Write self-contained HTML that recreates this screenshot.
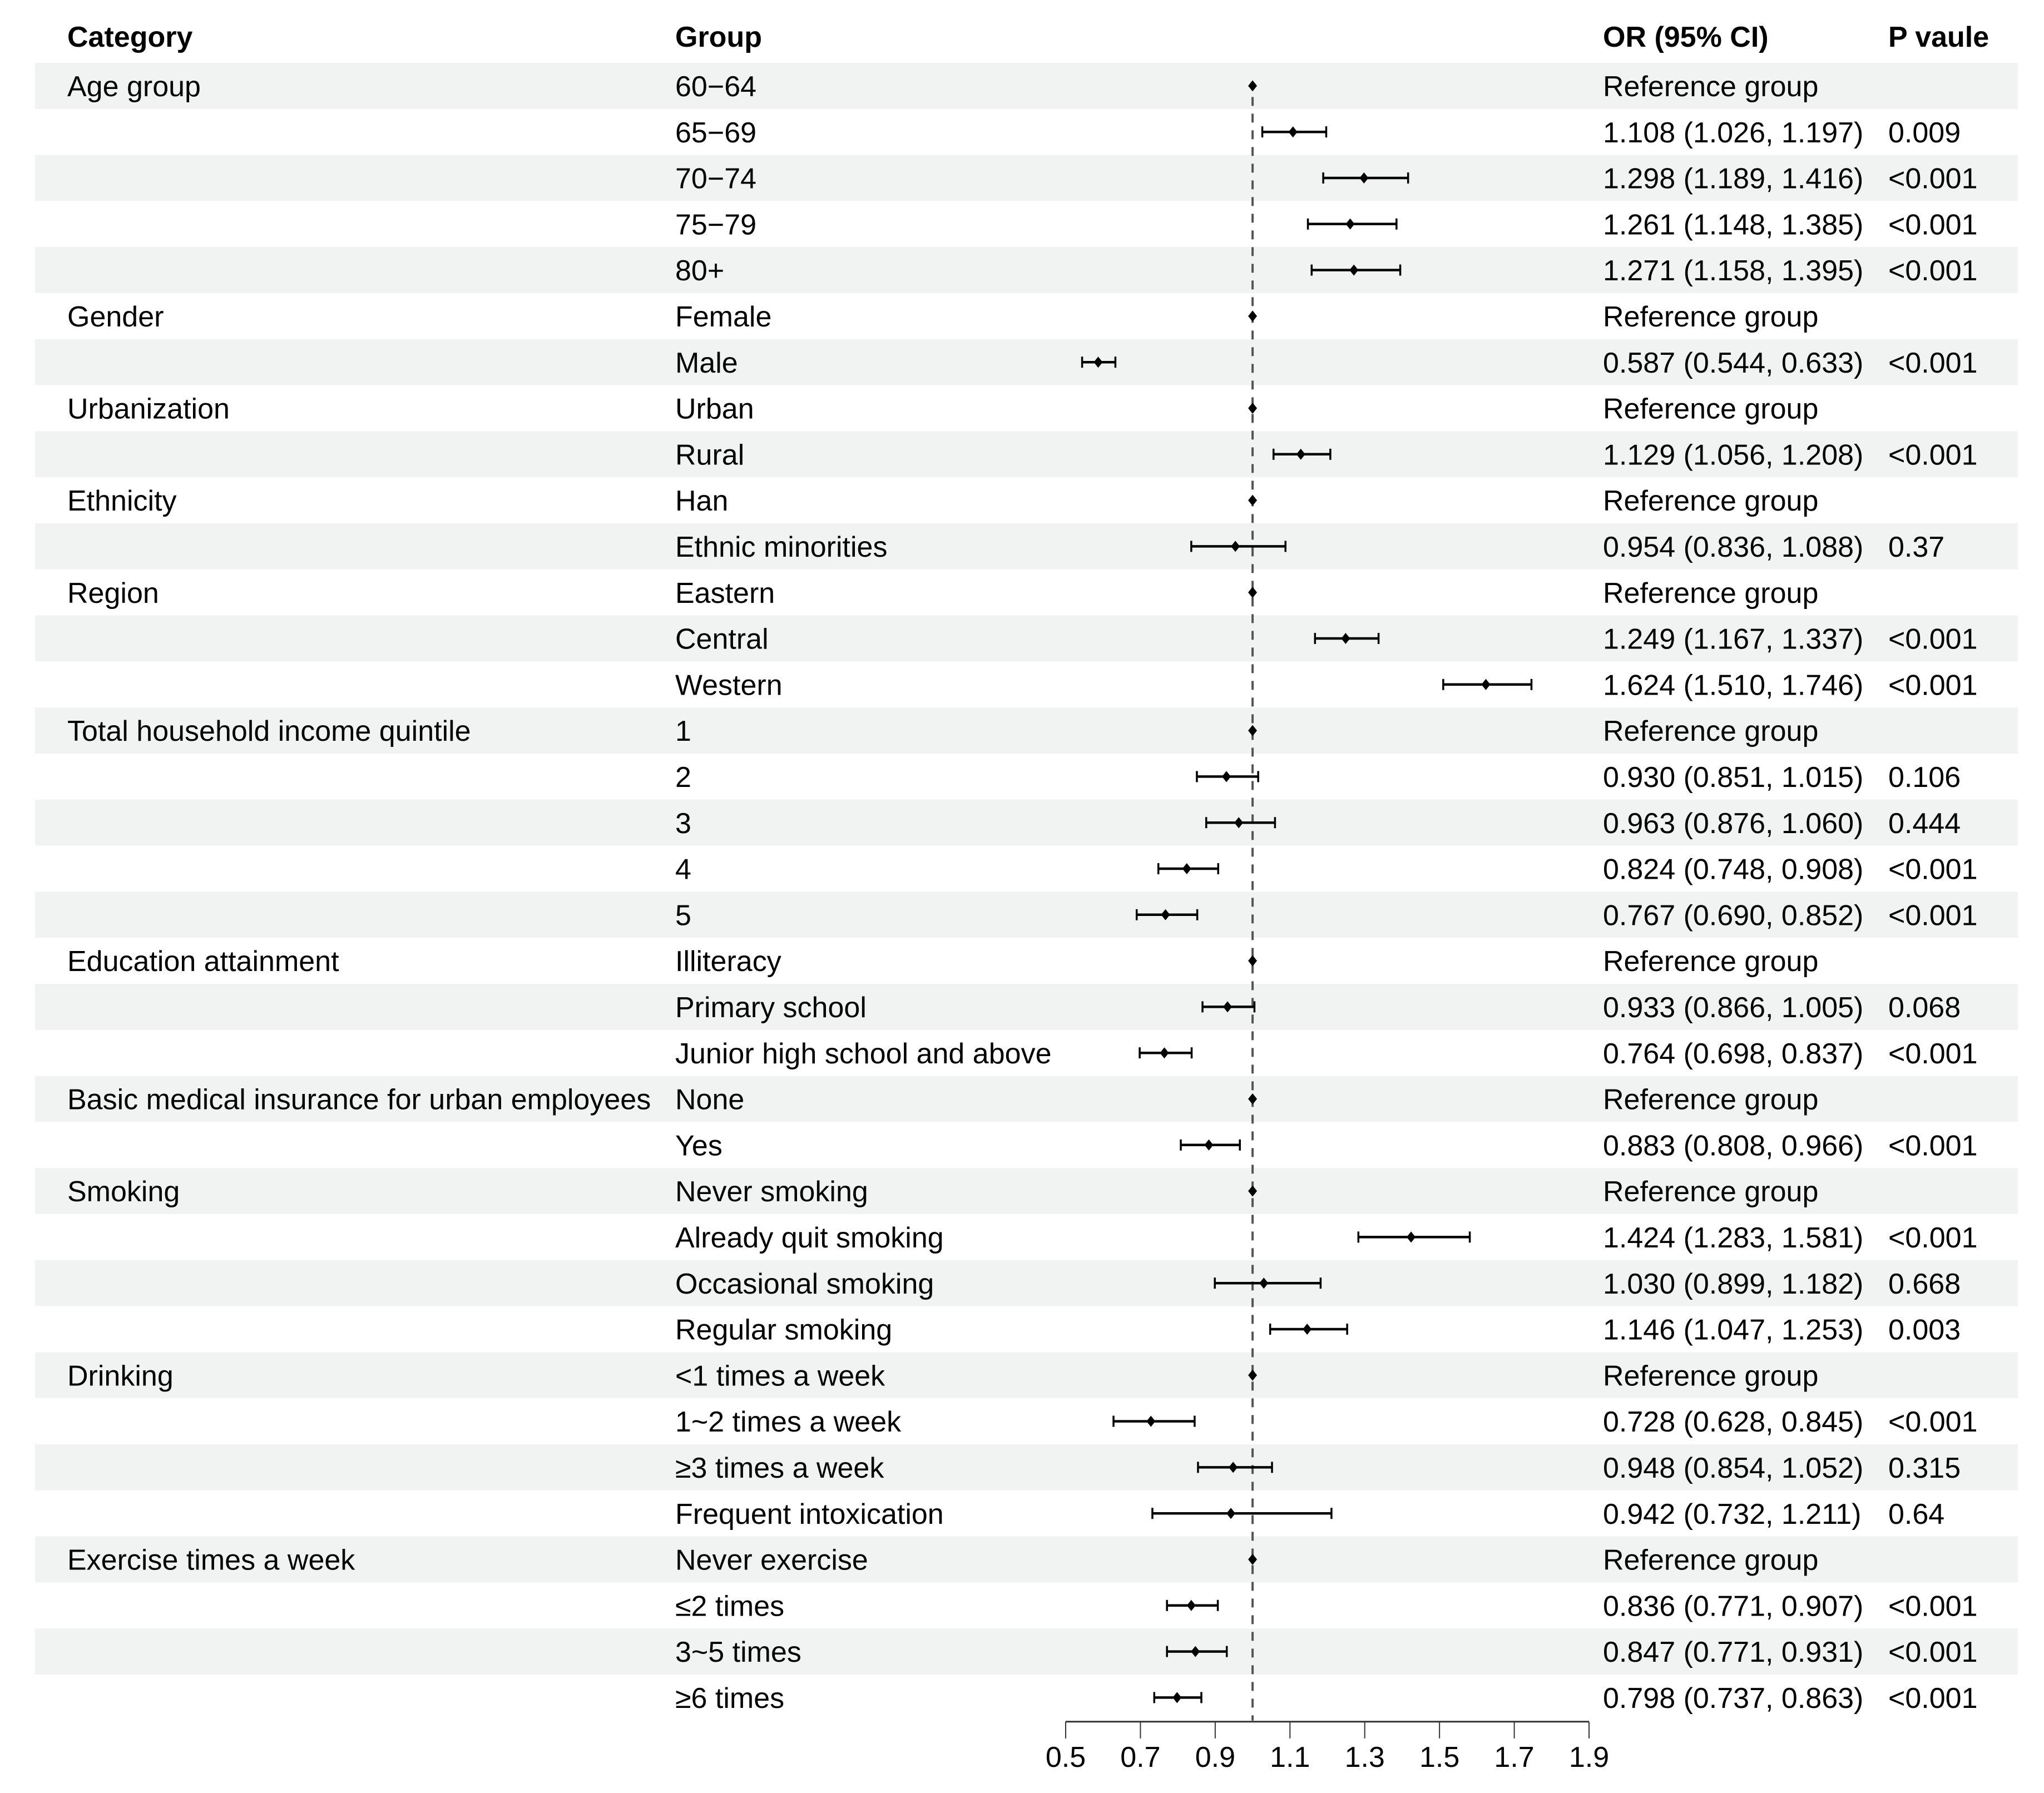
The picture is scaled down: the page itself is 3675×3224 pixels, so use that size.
<!DOCTYPE html>
<html><head><meta charset="utf-8">
<style>
html,body{margin:0;padding:0;background:#fff;}
svg{display:block;font-family:"Liberation Sans",Arial,sans-serif;}
</style></head>
<body>
<svg id="chart" width="3675" height="3224" viewBox="0 0 3675 3224" xmlns="http://www.w3.org/2000/svg">
<g id="bands"></g>
<g id="headers" font-size="52" font-weight="bold" fill="#000">
<text x="121" y="84">Category</text>
<text x="1214" y="84">Group</text>
<text x="2882" y="84">OR (95% CI)</text>
<text x="3395" y="84">P vaule</text>
</g>
<g id="texts" font-size="52" fill="#000"></g>
<g id="refline"></g>
<g id="marks"></g>
<g id="axis"></g>
</svg>
<script>
const categories = ["Age group","","","","","Gender","","Urbanization","","Ethnicity","","Region","","","Total household income quintile","","","","","Education attainment","","","Basic medical insurance for urban employees","","Smoking","","","","Drinking","","","","Exercise times a week","","",""];
const groups = ["60\u221264","65\u221269","70\u221274","75\u221279","80+","Female","Male","Urban","Rural","Han","Ethnic minorities","Eastern","Central","Western","1","2","3","4","5","Illiteracy","Primary school","Junior high school and above","None","Yes","Never smoking","Already quit smoking","Occasional smoking","Regular smoking","<1 times a week","1~2 times a week","\u22653 times a week","Frequent intoxication","Never exercise","\u22642 times","3~5 times","\u22656 times"];
const orValues = [1,1.108,1.298,1.261,1.271,1,0.587,1,1.129,1,0.954,1,1.249,1.624,1,0.930,0.963,0.824,0.767,1,0.933,0.764,1,0.883,1,1.424,1.030,1.146,1,0.728,0.948,0.942,1,0.836,0.847,0.798];
const lowerCI = [null,1.026,1.189,1.148,1.158,null,0.544,null,1.056,null,0.836,null,1.167,1.510,null,0.851,0.876,0.748,0.690,null,0.866,0.698,null,0.808,null,1.283,0.899,1.047,null,0.628,0.854,0.732,null,0.771,0.771,0.737];
const upperCI = [null,1.197,1.416,1.385,1.395,null,0.633,null,1.208,null,1.088,null,1.337,1.746,null,1.015,1.060,0.908,0.852,null,1.005,0.837,null,0.966,null,1.581,1.182,1.253,null,0.845,1.052,1.211,null,0.907,0.931,0.863];
const orLabels = ["Reference group","1.108 (1.026, 1.197)","1.298 (1.189, 1.416)","1.261 (1.148, 1.385)","1.271 (1.158, 1.395)","Reference group","0.587 (0.544, 0.633)","Reference group","1.129 (1.056, 1.208)","Reference group","0.954 (0.836, 1.088)","Reference group","1.249 (1.167, 1.337)","1.624 (1.510, 1.746)","Reference group","0.930 (0.851, 1.015)","0.963 (0.876, 1.060)","0.824 (0.748, 0.908)","0.767 (0.690, 0.852)","Reference group","0.933 (0.866, 1.005)","0.764 (0.698, 0.837)","Reference group","0.883 (0.808, 0.966)","Reference group","1.424 (1.283, 1.581)","1.030 (0.899, 1.182)","1.146 (1.047, 1.253)","Reference group","0.728 (0.628, 0.845)","0.948 (0.854, 1.052)","0.942 (0.732, 1.211)","Reference group","0.836 (0.771, 0.907)","0.847 (0.771, 0.931)","0.798 (0.737, 0.863)"];
const pLabels = ["","0.009","<0.001","<0.001","<0.001","","<0.001","","<0.001","","0.37","","<0.001","<0.001","","0.106","0.444","<0.001","<0.001","","0.068","<0.001","","<0.001","","<0.001","0.668","0.003","","<0.001","0.315","0.64","","<0.001","<0.001","<0.001"];
const tickValues = [0.5,0.7,0.9,1.1,1.3,1.5,1.7,1.9];
const tickLabels = ["0.5","0.7","0.9","1.1","1.3","1.5","1.7","1.9"];

const NS = "http://www.w3.org/2000/svg";
const TOP = 113, ROWH = 82.8;
const X0 = 1916, X1 = 2857, V0 = 0.5, V1 = 1.9;
function xScale(v){ return X0 + (v - V0) / (V1 - V0) * (X1 - X0); }
function rowTop(i){ return TOP + i * ROWH; }
function rowMid(i){ return TOP + i * ROWH + ROWH / 2; }
function mk(tag, attrs, parent){ const e = document.createElementNS(NS, tag); for (const k in attrs) e.setAttribute(k, attrs[k]); parent.appendChild(e); return e; }

const bands = document.getElementById('bands');
const texts = document.getElementById('texts');
const marks = document.getElementById('marks');
const n = groups.length;
for (let i = 0; i < n; i++) {
  if (i % 2 === 0) {
    const r = mk('rect', {x: 63, y: rowTop(i), width: 3565, height: ROWH, fill: '#f1f2f2'}, bands);
    
    
  }
  const by = rowTop(i) + 60;
  if (categories[i]) {
    const t = mk('text', {x: 121, y: by}, texts); t.textContent = categories[i];
    
    
  }
  const g = mk('text', {x: 1214, y: by}, texts); g.textContent = groups[i];
  
  
  const o = mk('text', {x: 2882, y: by}, texts); o.textContent = orLabels[i];
  
  
  if (pLabels[i]) {
    const p = mk('text', {x: 3395, y: by}, texts); p.textContent = pLabels[i];
    
    
  }
}

const rl = mk('line', {x1: xScale(1), x2: xScale(1), y1: rowMid(0) + 20, y2: rowTop(n), stroke: '#555', 'stroke-width': 4, 'stroke-dasharray': '16 14'}, document.getElementById('refline'));



for (let i = 0; i < n; i++) {
  const cy = rowMid(i);
  if (lowerCI[i] !== null) {
    const xl = xScale(lowerCI[i]), xu = xScale(upperCI[i]);
    const w = mk('line', {x1: xl, x2: xu, y1: cy, y2: cy, stroke: '#000', 'stroke-width': 4.5}, marks);
    
    
    const c1 = mk('line', {x1: xl, x2: xl, y1: cy - 10, y2: cy + 10, stroke: '#000', 'stroke-width': 3.5}, marks);
    
    
    const c2 = mk('line', {x1: xu, x2: xu, y1: cy - 10, y2: cy + 10, stroke: '#000', 'stroke-width': 3.5}, marks);
    
    
  }
  const x = xScale(orValues[i]);
  const d = mk('polygon', {points: `${x},${cy-10} ${x+8},${cy} ${x},${cy+10} ${x-8},${cy}`, fill: '#000'}, marks);
  
  
}

const axis = document.getElementById('axis');
const ay = rowTop(n) + 2;
const al = mk('line', {x1: xScale(V0), x2: xScale(V1), y1: ay, y2: ay, stroke: '#333', 'stroke-width': 3}, axis);


for (let k = 0; k < tickValues.length; k++) {
  const tx = xScale(tickValues[k]);
  const tk = mk('line', {x1: tx, x2: tx, y1: ay, y2: ay + 30, stroke: '#333', 'stroke-width': 2}, axis);
  
  
  const tl = mk('text', {x: tx, y: ay + 81, 'text-anchor': 'middle', 'font-size': 52, fill: '#000'}, axis);
  tl.textContent = tickLabels[k];
  
  
}
</script>
</body></html>
